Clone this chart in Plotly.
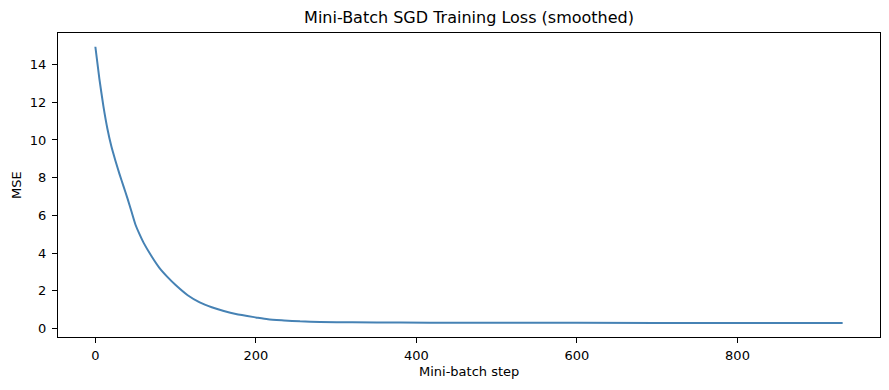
import plotly.graph_objects as go

steps = [0, 5, 10, 15, 20, 25, 30, 35, 40, 45, 50, 55, 60, 70, 80, 90, 100, 115, 130, 145,
         160, 175, 200, 215, 235, 255, 280, 320, 380, 450, 600, 800, 931]
mse = [14.95, 13.25, 11.8, 10.6, 9.65, 8.9, 8.2, 7.55, 6.9, 6.2, 5.5, 5.0, 4.55, 3.83,
       3.2, 2.72, 2.3, 1.76, 1.38, 1.12, 0.92, 0.76, 0.58, 0.48, 0.42, 0.37, 0.34, 0.32,
       0.305, 0.295, 0.29, 0.285, 0.285]

title_text = "Mini-Batch SGD Training Loss (smoothed)"
x_label = "Mini-batch step"
y_label = "MSE"

fig = go.Figure()
fig.add_trace(go.Scatter(x=steps, y=mse, mode="lines",
                         line=dict(color="#4682B4", width=2, shape="spline", smoothing=0.6),
                         showlegend=False))

font = "DejaVu Sans"
axis_common = dict(showgrid=False, zeroline=False, showline=True, linecolor="black",
                   linewidth=1, mirror=True, ticks="outside", ticklen=5, tickwidth=1,
                   tickcolor="black", automargin=False,
                   tickfont=dict(family=font, size=13, color="black"))

plot_h = 390 - 33 - 53
plot_w = 889 - 58 - 9

fig.update_layout(
    width=889, height=390,
    margin=dict(l=58, r=9, t=33, b=53),
    paper_bgcolor="white", plot_bgcolor="white",
    title=dict(text=title_text, x=0.5276, xanchor="center", xref="container",
               y=1 - 17 / 390, yanchor="middle", yref="container",
               font=dict(family=font, size=16, color="black")),
    xaxis=dict(range=[-46.55, 977.55], tick0=0, dtick=200,
               ticklabelstandoff=1, **axis_common),
    yaxis=dict(range=[-0.46, 15.68], tick0=0, dtick=2,
               ticklabelstandoff=3, **axis_common),
    annotations=[
        dict(text=x_label, xref="paper", yref="paper", x=0.5, y=-(371 - 337) / plot_h,
             xanchor="center", yanchor="middle", showarrow=False,
             font=dict(family=font, size=13, color="black")),
        dict(text=y_label, xref="paper", yref="paper", x=(16 - 58) / plot_w, y=0.5,
             xanchor="center", yanchor="middle", showarrow=False, textangle=-90,
             font=dict(family=font, size=13, color="black")),
    ],
)

fig.write_html("out.html", config={"displayModeBar": False},
               post_script="document.body.style.margin='0';document.body.style.overflow='hidden';")
